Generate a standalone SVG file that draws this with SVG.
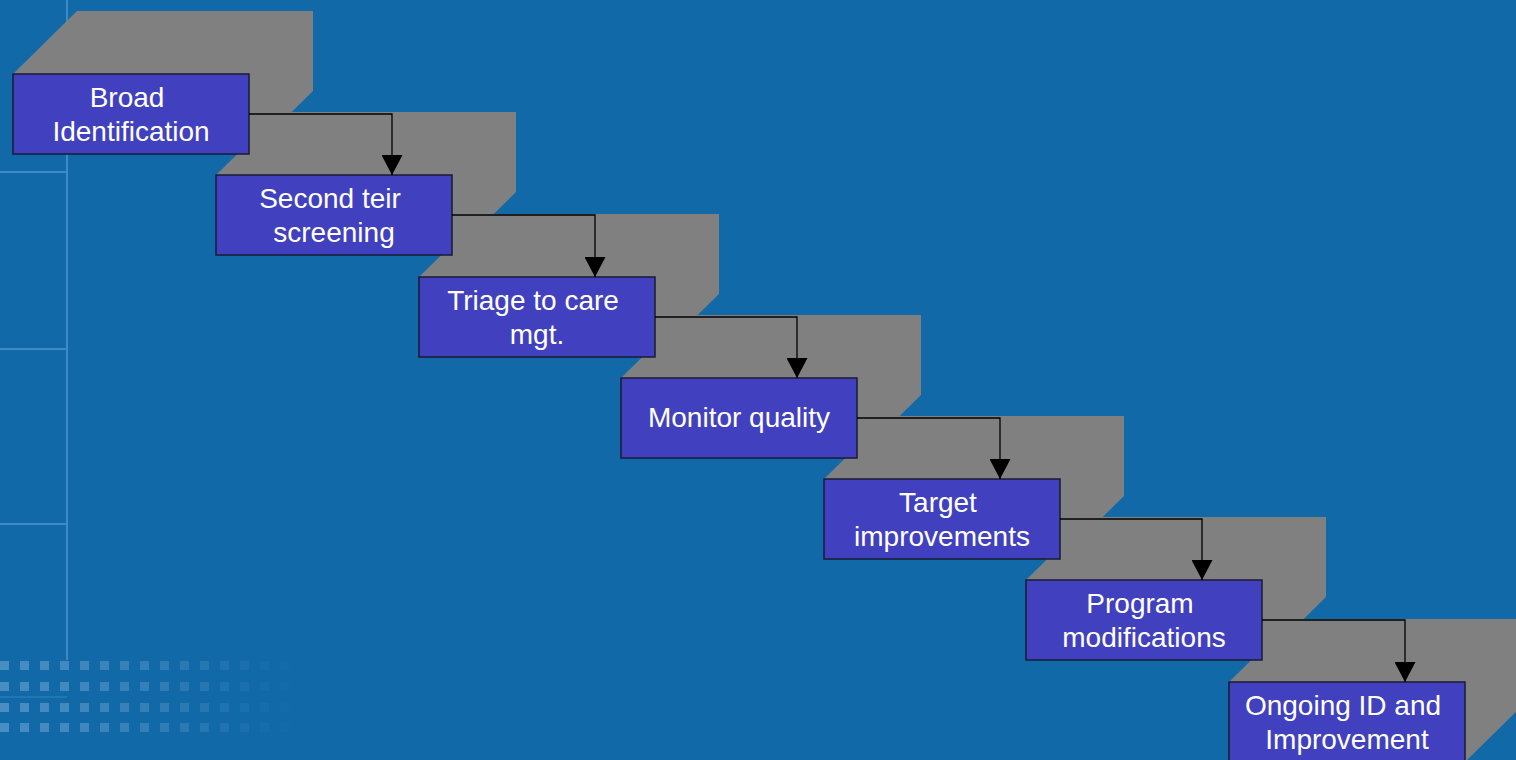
<svg xmlns="http://www.w3.org/2000/svg" width="1516" height="760" viewBox="0 0 1516 760">
<defs>
<style>
.bg{fill:#1169A8}
.pl{stroke:#3C8AC6;stroke-width:2;fill:none}
.dot{fill:#8EBBE3}
.sh{fill:#808080}
.box{fill:#4141BF;stroke:#1A1A33;stroke-width:1.5}
.lbl{font-family:"Liberation Sans",Arial,sans-serif;font-size:28px;fill:#FFFFFF;text-anchor:middle}
.con{stroke:#000000;stroke-width:1.3;fill:none;marker-end:url(#ah)}
</style>
<marker id="ah" viewBox="0 0 20 21" refX="20" refY="10.5" markerWidth="20" markerHeight="21" markerUnits="userSpaceOnUse" orient="auto">
<path d="M0,0 L20,10.5 L0,21 z" fill="#000000"/>
</marker>
</defs>
<rect class="bg" x="0" y="0" width="1516" height="760"/>
<g id="background-decor">
<line class="pl" x1="67" y1="0" x2="67" y2="660"/>
<line class="pl" x1="0" y1="172" x2="67" y2="172"/>
<line class="pl" x1="0" y1="349" x2="67" y2="349"/>
<line class="pl" x1="0" y1="524" x2="67" y2="524"/>
<line class="pl" x1="0" y1="697" x2="67" y2="697" stroke-opacity="0.4"/>
<g class="dot">
<g opacity="0.45"><rect x="0" y="661" width="9" height="9"/><rect x="0" y="682" width="9" height="9"/><rect x="0" y="703" width="9" height="9"/><rect x="0" y="723" width="9" height="9"/></g>
<g opacity="0.43"><rect x="20" y="661" width="9" height="9"/><rect x="20" y="682" width="9" height="9"/><rect x="20" y="703" width="9" height="9"/><rect x="20" y="723" width="9" height="9"/></g>
<g opacity="0.41"><rect x="40" y="661" width="9" height="9"/><rect x="40" y="682" width="9" height="9"/><rect x="40" y="703" width="9" height="9"/><rect x="40" y="723" width="9" height="9"/></g>
<g opacity="0.39"><rect x="60" y="661" width="9" height="9"/><rect x="60" y="682" width="9" height="9"/><rect x="60" y="703" width="9" height="9"/><rect x="60" y="723" width="9" height="9"/></g>
<g opacity="0.36"><rect x="80" y="661" width="9" height="9"/><rect x="80" y="682" width="9" height="9"/><rect x="80" y="703" width="9" height="9"/><rect x="80" y="723" width="9" height="9"/></g>
<g opacity="0.33"><rect x="100" y="661" width="9" height="9"/><rect x="100" y="682" width="9" height="9"/><rect x="100" y="703" width="9" height="9"/><rect x="100" y="723" width="9" height="9"/></g>
<g opacity="0.30"><rect x="120" y="661" width="9" height="9"/><rect x="120" y="682" width="9" height="9"/><rect x="120" y="703" width="9" height="9"/><rect x="120" y="723" width="9" height="9"/></g>
<g opacity="0.27"><rect x="140" y="661" width="9" height="9"/><rect x="140" y="682" width="9" height="9"/><rect x="140" y="703" width="9" height="9"/><rect x="140" y="723" width="9" height="9"/></g>
<g opacity="0.24"><rect x="160" y="661" width="9" height="9"/><rect x="160" y="682" width="9" height="9"/><rect x="160" y="703" width="9" height="9"/><rect x="160" y="723" width="9" height="9"/></g>
<g opacity="0.20"><rect x="180" y="661" width="9" height="9"/><rect x="180" y="682" width="9" height="9"/><rect x="180" y="703" width="9" height="9"/><rect x="180" y="723" width="9" height="9"/></g>
<g opacity="0.16"><rect x="200" y="661" width="9" height="9"/><rect x="200" y="682" width="9" height="9"/><rect x="200" y="703" width="9" height="9"/><rect x="200" y="723" width="9" height="9"/></g>
<g opacity="0.12"><rect x="220" y="661" width="9" height="9"/><rect x="220" y="682" width="9" height="9"/><rect x="220" y="703" width="9" height="9"/><rect x="220" y="723" width="9" height="9"/></g>
<g opacity="0.08"><rect x="240" y="661" width="9" height="9"/><rect x="240" y="682" width="9" height="9"/><rect x="240" y="703" width="9" height="9"/><rect x="240" y="723" width="9" height="9"/></g>
<g opacity="0.05"><rect x="260" y="661" width="9" height="9"/><rect x="260" y="682" width="9" height="9"/><rect x="260" y="703" width="9" height="9"/><rect x="260" y="723" width="9" height="9"/></g>
<g opacity="0.03"><rect x="280" y="661" width="9" height="9"/><rect x="280" y="682" width="9" height="9"/><rect x="280" y="703" width="9" height="9"/><rect x="280" y="723" width="9" height="9"/></g>
</g>
</g>
<g id="nodes">
<g id="node7">
<polygon class="sh" points="1229,682 1293,619 1529,619 1529,699 1465,762"/>
<rect class="box" x="1229" y="682" width="236" height="80"/>
<text class="lbl" x="1343" y="715">Ongoing ID and</text>
<text class="lbl" x="1347" y="749">Improvement</text>
</g>
<g id="node6">
<polygon class="sh" points="1026,580 1090,517 1326,517 1326,597 1262,660"/>
<rect class="box" x="1026" y="580" width="236" height="80"/>
<text class="lbl" x="1140" y="613">Program</text>
<text class="lbl" x="1144" y="647">modifications</text>
</g>
<g id="node5">
<polygon class="sh" points="824,479 888,416 1124,416 1124,496 1060,559"/>
<rect class="box" x="824" y="479" width="236" height="80"/>
<text class="lbl" x="938" y="512">Target</text>
<text class="lbl" x="942" y="546">improvements</text>
</g>
<g id="node4">
<polygon class="sh" points="621,378 685,315 921,315 921,395 857,458"/>
<rect class="box" x="621" y="378" width="236" height="80"/>
<text class="lbl" x="739" y="427">Monitor quality</text>
</g>
<g id="node3">
<polygon class="sh" points="419,277 483,214 719,214 719,294 655,357"/>
<rect class="box" x="419" y="277" width="236" height="80"/>
<text class="lbl" x="533" y="310">Triage to care</text>
<text class="lbl" x="537" y="344">mgt.</text>
</g>
<g id="node2">
<polygon class="sh" points="216,175 280,112 516,112 516,192 452,255"/>
<rect class="box" x="216" y="175" width="236" height="80"/>
<text class="lbl" x="330" y="208">Second teir</text>
<text class="lbl" x="334" y="242">screening</text>
</g>
<g id="node1">
<polygon class="sh" points="13,74 77,11 313,11 313,91 249,154"/>
<rect class="box" x="13" y="74" width="236" height="80"/>
<text class="lbl" x="127" y="107">Broad</text>
<text class="lbl" x="131" y="141">Identification</text>
</g>
</g>
<g id="connectors">
<path class="con" d="M249,114 H392 V175"/>
<path class="con" d="M452,215 H595 V277"/>
<path class="con" d="M655,317 H797 V378"/>
<path class="con" d="M857,418 H1000 V479"/>
<path class="con" d="M1060,519 H1202 V580"/>
<path class="con" d="M1262,620 H1405 V682"/>
</g>
</svg>
